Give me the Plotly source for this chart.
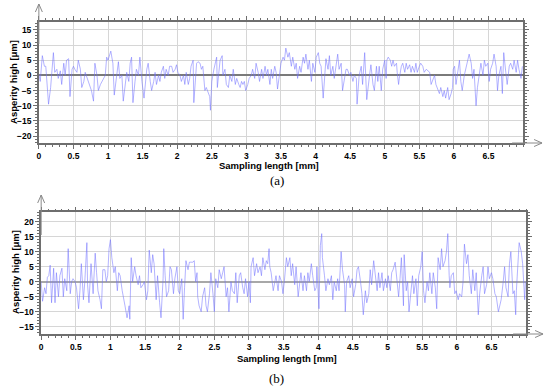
import plotly.graph_objects as go

# ---------------- data ----------------
xa = [0.00,0.02,0.05,0.08,0.10,0.14,0.17,0.21,0.23,0.26,0.28,0.31,0.33,0.36,0.38,0.40,0.43,0.45,0.48,0.50,
      0.52,0.55,0.57,0.60,0.62,0.65,0.67,0.70,0.72,0.74,0.76,0.79,0.81,0.84,0.86,0.89,0.91,0.94,0.96,0.98,
      1.00,1.04,1.07,1.09,1.12,1.15,1.17,1.20,1.22,1.25,1.27,1.30,1.32,1.34,1.36,1.39,1.41,1.44,1.46,1.49,
      1.52,1.56,1.58,1.61,1.63,1.66,1.68,1.70,1.73,1.75,1.77,1.80,1.82,1.84,1.87,1.89,1.92,1.94,1.97,1.99,
      2.01,2.04,2.06,2.09,2.11,2.13,2.16,2.18,2.20,2.23,2.24,2.28,2.30,2.33,2.35,2.37,2.40,2.42,2.45,2.47,
      2.48,2.50,2.53,2.55,2.57,2.58,2.60,2.62,2.65,2.66,2.69,2.71,2.74,2.76,2.79,2.81,2.84,2.86,2.89,2.91,
      2.93,2.95,2.97,2.99,3.02,3.04,3.07,3.09,3.12,3.14,3.17,3.19,3.22,3.24,3.27,3.29,3.31,3.34,3.36,3.38,
      3.41,3.43,3.45,3.48,3.50,3.53,3.55,3.57,3.60,3.62,3.65,3.67,3.70,3.72,3.74,3.77,3.79,3.82,3.84,3.86,
      3.89,3.91,3.94,3.96,3.99,4.01,4.04,4.06,4.08,4.11,4.13,4.15,4.18,4.20,4.22,4.25,4.27,4.30,4.32,4.34,
      4.37,4.39,4.42,4.44,4.46,4.49,4.51,4.54,4.56,4.59,4.60,4.63,4.66,4.68,4.71,4.74,4.78,4.80,4.83,4.85,
      4.88,4.90,4.92,4.95,4.97,5.00,5.02,5.03,5.05,5.08,5.10,5.12,5.14,5.17,5.18,5.20,5.21,5.24,5.26,5.29,
      5.31,5.33,5.36,5.38,5.40,5.43,5.45,5.47,5.50,5.52,5.55,5.57,5.60,5.62,5.65,5.67,5.69,5.72,5.74,5.76,
      5.79,5.81,5.84,5.86,5.88,5.91,5.93,5.96,5.98,5.99,6.01,6.03,6.05,6.08,6.10,6.12,6.15,6.17,6.20,6.22,
      6.25,6.27,6.29,6.32,6.34,6.37,6.39,6.42,6.44,6.46,6.49,6.51,6.53,6.56,6.58,6.61,6.63,6.65,6.68,6.70,
      6.72,6.75,6.77,6.80,6.82,6.85,6.87,6.90,6.92,6.94,6.97,6.99]
ya = [0.5,-2,6.5,3,3,-9.5,-4,7.5,1,2,-1,1.5,-3,4,0,5,5.5,-7,2,3,
      2,1,5,2,-4,-2,1,-1,-3,-4,-5,-8.5,4,0,-5,-3,-2,-1,0,6,
      5,8,4,-6.5,0,4.5,-1,0,-8.5,-3,1,-2,4,6,-9,-2,2,0,6,-2,
      -7.5,2,4,-2,-5,-2,1,-3,0,-2,1,3,-1,2,0,3,3,1,2,3.5,
      1,0,-2,0,-3,1,-3,-1,3,5,-9,4,4.5,4,2,3,-5,-4,-6,-7,
      -11.5,-2,2,4,6,-4,0,5,6.5,0,2,-3,-4,0,-2,2,-3,-1,-3,-4,
      -2,-3,-2,-5,-3,-1,0,2,-1,4,1,-2,2,-1,3,0,2,-3,2,-1,
      3,1,-4.5,0,4,6,5,9,6,7.5,3,6,2,4,-1,3,1,6,4,7,
      2,5,-2,4,1,6,7.5,4,3,-7.5,1,5.5,2,6.5,0,3,-1,3,7,2,
      4,-5,0,2,2,0,1,-2,0,-1,-9.5,0,3,-3,7.5,-8,0,3.5,-3,-5,
      3,-2,3,-5,2,5,-1,5,6,5,3,5,3,4,1,-3,-1,3,4,1,
      4,2,3.5,1,3,1,4,1,3,4,3,1,2,1.5,1,-3,-2,0,-3,-4,
      -6,-4,-7,-5,-7.5,-4,-8,-6,-4,2,3,-3,0,5,-2,-5,0,2,5,7,
      4,-1,2,-10,-4,2,4,0,5,3,4,-2,2,4,7,3,-5,0,3,-6,
      7.5,1,-3,3,4,2,5,1,5,2,-1,3]

xb = [0.00,0.02,0.05,0.07,0.09,0.11,0.13,0.15,0.18,0.20,0.22,0.25,0.27,0.30,0.32,0.34,0.37,0.39,0.42,0.44,
      0.46,0.49,0.51,0.54,0.56,0.58,0.61,0.63,0.66,0.67,0.69,0.72,0.75,0.78,0.80,0.82,0.85,0.87,0.89,0.92,
      0.94,0.96,0.98,1.00,1.02,1.05,1.07,1.10,1.12,1.14,1.17,1.19,1.21,1.24,1.27,1.28,1.30,1.32,1.35,1.37,
      1.40,1.42,1.44,1.47,1.49,1.52,1.54,1.56,1.59,1.61,1.63,1.66,1.68,1.71,1.73,1.76,1.77,1.79,1.81,1.84,
      1.86,1.88,1.91,1.93,1.96,1.98,2.00,2.03,2.05,2.07,2.09,2.12,2.14,2.16,2.19,2.21,2.23,2.25,2.26,2.28,
      2.31,2.33,2.36,2.38,2.40,2.43,2.45,2.48,2.50,2.52,2.55,2.57,2.60,2.62,2.64,2.67,2.69,2.71,2.74,2.76,
      2.79,2.81,2.83,2.86,2.88,2.91,2.93,2.95,2.98,3.00,3.02,3.03,3.06,3.08,3.11,3.13,3.16,3.18,3.20,3.23,
      3.25,3.27,3.29,3.30,3.32,3.35,3.37,3.39,3.42,3.44,3.47,3.49,3.51,3.54,3.56,3.59,3.61,3.63,3.66,3.68,
      3.71,3.73,3.75,3.78,3.80,3.83,3.85,3.87,3.90,3.92,3.95,3.97,3.98,4.01,4.02,4.03,4.05,4.06,4.09,4.11,
      4.14,4.16,4.19,4.21,4.23,4.26,4.28,4.30,4.33,4.35,4.38,4.39,4.41,4.44,4.46,4.49,4.51,4.54,4.56,4.58,
      4.61,4.63,4.65,4.68,4.70,4.73,4.75,4.77,4.80,4.82,4.85,4.87,4.89,4.92,4.94,4.97,4.99,5.01,5.04,5.06,
      5.08,5.11,5.13,5.16,5.18,5.20,5.23,5.24,5.27,5.29,5.31,5.34,5.36,5.38,5.41,5.43,5.45,5.48,5.50,5.52,
      5.54,5.57,5.59,5.61,5.64,5.66,5.69,5.71,5.73,5.76,5.78,5.80,5.83,5.85,5.87,5.89,5.90,5.92,5.95,5.97,
      5.99,6.02,6.04,6.07,6.09,6.11,6.14,6.16,6.18,6.21,6.23,6.26,6.28,6.31,6.33,6.36,6.38,6.40,6.43,6.45,
      6.47,6.50,6.52,6.55,6.57,6.60,6.62,6.64,6.67,6.69,6.71,6.74,6.76,6.78,6.81,6.83,6.85,6.86,6.89,6.90,
      6.93,6.95,6.97,6.98,6.99]
yb = [0,-6.5,-2,-4,1.5,2,5.5,-7,4.5,-7,3,-5,2,4.5,-5,1,-3,11,-4,0,
      1,0,-2,-9,-3,6,-6,0,13,-1,-7,6,-4,9.5,3,-3,-6,-9,4,4,
      0,2,11,14,8,3,5,-3,3,2,-3,-5,-8,-12,-8,-12.5,8,0,5,2,
      -1,2,-2,-1,0,-6,-3,10.5,3,9,6,-6,2,-7,-12,1,11,2,-5,-3,
      5,4,-4,1,5,-3,-4,1,-12.5,-2,7,4,6.5,6.5,6.5,7,0,3,-5,-8,
      -10,-5,-2,-8,-10,-4,3,-4,-10,1,-2,4,1,3,5,-5,-2,-10,0,-3,
      -4,3,-7,2,3,-2,-4,1,-5,0,-7,5,8,2,6,3,5,2,8,4,
      7,6,11,5,3,-3,-1,2,-3,2,0,-4,0,8,5,8,2,6,-1,5,
      -5,-1,3,-3,2,-3,3,0,6,2,-3,-2,5,-9,2,12,16,8,2,-3,
      1,-1,2,-6,0,-3,1,-3,10,4,-1,-10,0,2,-2,1,-5,-1,4,5,
      0,-4,-11,-3,-7,-4,4,-1,7,2,-3,3,-2,3,-3,1,-2,2,-3,3,
      4,6.5,2,-5,1,8,-8,9,-3,0,-10,-3,2,-4,1,-8,2,5,10,-3,
      -7,0,-3,3,-4,3,-2,-9,8,4,11,5,7,10,16,2,-2,2,3,-4,
      -3,-6,-4,-5,0,12.5,6,9,2,-4,4,-3,3,-11,-4,2,5,-4,-1,5,
      1,3,1,-4,-5,-10,-8,-6,0,5,-2,-5,6,10,-4,-3,-11,-3,9,13,
      10,6,-2,-6,0]

x_ticks = [0, 0.5, 1, 1.5, 2, 2.5, 3, 3.5, 4, 4.5, 5, 5.5, 6, 6.5]
x_labels = ["0", "0.5", "1", "1.5", "2", "2.5", "3", "3.5", "4", "4.5", "5", "5.5", "6", "6.5"]
ya_ticks = [-20, -15, -10, -5, 0, 5, 10, 15]
yb_ticks = [-15, -10, -5, 0, 5, 10, 15, 20]
x_title = "Sampling length [mm]"
y_title = "Asperity high [μm]"
panel_labels = ["(a)", "(b)"]

# ---------------- figure ----------------
W, H = 550, 390
def px(x): return x / W
def py(y): return 1 - y / H

FONT = "Liberation Sans, Arial, sans-serif"
LINE = "rgba(115,115,255,0.72)"
AXC = "#6e6e6e"

fig = go.Figure()
fig.add_trace(go.Scatter(x=xa, y=ya, mode="lines", line=dict(color=LINE, width=0.75),
                         xaxis="x", yaxis="y", showlegend=False))
fig.add_trace(go.Scatter(x=xb, y=yb, mode="lines", line=dict(color=LINE, width=0.75),
                         xaxis="x2", yaxis="y2", showlegend=False))

def xaxis(dom, anchor):
    return dict(domain=dom, anchor=anchor, range=[0, 7.0], tickvals=x_ticks, ticktext=x_labels,
                showgrid=True, gridcolor="#d6d6d6", gridwidth=1, zeroline=False,
                showline=True, linecolor=AXC, linewidth=1.6, mirror="allticks",
                ticks="outside", ticklen=4, tickcolor=AXC, tickwidth=1,
                minor=dict(dtick=0.1, tick0=0, ticks="outside", ticklen=2, tickcolor=AXC, showgrid=False),
                tickfont=dict(family=FONT, size=8.5, color="black", weight="bold"))

def yaxis(dom, anchor, rng, tv, zc, zw):
    return dict(domain=dom, anchor=anchor, range=rng, tickvals=tv, ticktext=[str(v).replace("-", "−") for v in tv],
                showgrid=True, gridcolor="#d6d6d6", gridwidth=1,
                zeroline=True, zerolinecolor=zc, zerolinewidth=zw,
                showline=True, linecolor=AXC, linewidth=1.6, mirror="allticks",
                ticks="outside", ticklen=4, tickcolor=AXC, tickwidth=1,
                minor=dict(dtick=1, tick0=0, ticks="outside", ticklen=2, tickcolor=AXC, showgrid=False),
                tickfont=dict(family=FONT, size=8.5, color="black", weight="bold"))

fig.update_layout(
    width=W, height=H, autosize=False,
    margin=dict(l=0, r=0, t=0, b=0),
    paper_bgcolor="white", plot_bgcolor="white",
    xaxis=xaxis([px(37), px(523)], "y"),
    yaxis=yaxis([py(143), py(22)], "x", [-22.3, 17.6], ya_ticks, "#7a7a7a", 1.5),
    xaxis2=xaxis([px(39.3), px(526)], "y2"),
    yaxis2=yaxis([py(334), py(212.3)], "x2", [-17.4, 23.1], yb_ticks, "#a8a8a8", 2),
)

ann = []
# axis titles
for (xc, yc) in [(268, 165), (286, 358)]:
    ann.append(dict(x=px(xc), y=py(yc), xref="paper", yref="paper", text=x_title, showarrow=False,
                    font=dict(family=FONT, size=9.5, color="black", weight="bold"),
                    xanchor="center", yanchor="middle"))
for (xc, yc) in [(11, 82), (13, 272)]:
    ann.append(dict(x=px(xc), y=py(yc), xref="paper", yref="paper", text=y_title, showarrow=False,
                    textangle=-90, font=dict(family=FONT, size=9.5, color="black", weight="bold"),
                    xanchor="center", yanchor="middle"))
for lab, (xc, yc) in zip(panel_labels, [(276, 180), (276, 378)]):
    ann.append(dict(x=px(xc), y=py(yc), xref="paper", yref="paper", text=lab, showarrow=False,
                    font=dict(family="Liberation Serif, Times New Roman, serif", size=13, color="black"),
                    xanchor="center", yanchor="middle"))
fig.update_layout(annotations=ann)

# axis arrows (decorative)
shapes = []
AC = "#8a8a8a"
for (x0, ytop, ybot, xend) in [(37, 4, 143, 542), (39.3, 195, 334, 543)]:
    shapes.append(dict(type="line", xref="paper", yref="paper", x0=px(x0), x1=px(x0),
                       y0=py(ytop + 40), y1=py(ytop), line=dict(color=AC, width=1)))
    shapes.append(dict(type="path", xref="paper", yref="paper",
                       path=f"M {px(x0-3.5)} {py(ytop+8)} L {px(x0)} {py(ytop)} L {px(x0+3.5)} {py(ytop+8)}",
                       line=dict(color=AC, width=1)))
    shapes.append(dict(type="line", xref="paper", yref="paper", x0=px(xend - 30), x1=px(xend),
                       y0=py(ybot), y1=py(ybot), line=dict(color=AC, width=1)))
    shapes.append(dict(type="path", xref="paper", yref="paper",
                       path=f"M {px(xend-8)} {py(ybot-3.5)} L {px(xend)} {py(ybot)} L {px(xend-8)} {py(ybot+3.5)}",
                       line=dict(color=AC, width=1)))
fig.update_layout(shapes=shapes)

fig.write_html("out.html", config={"displayModeBar": False},
               post_script="document.body.style.margin='0';")
